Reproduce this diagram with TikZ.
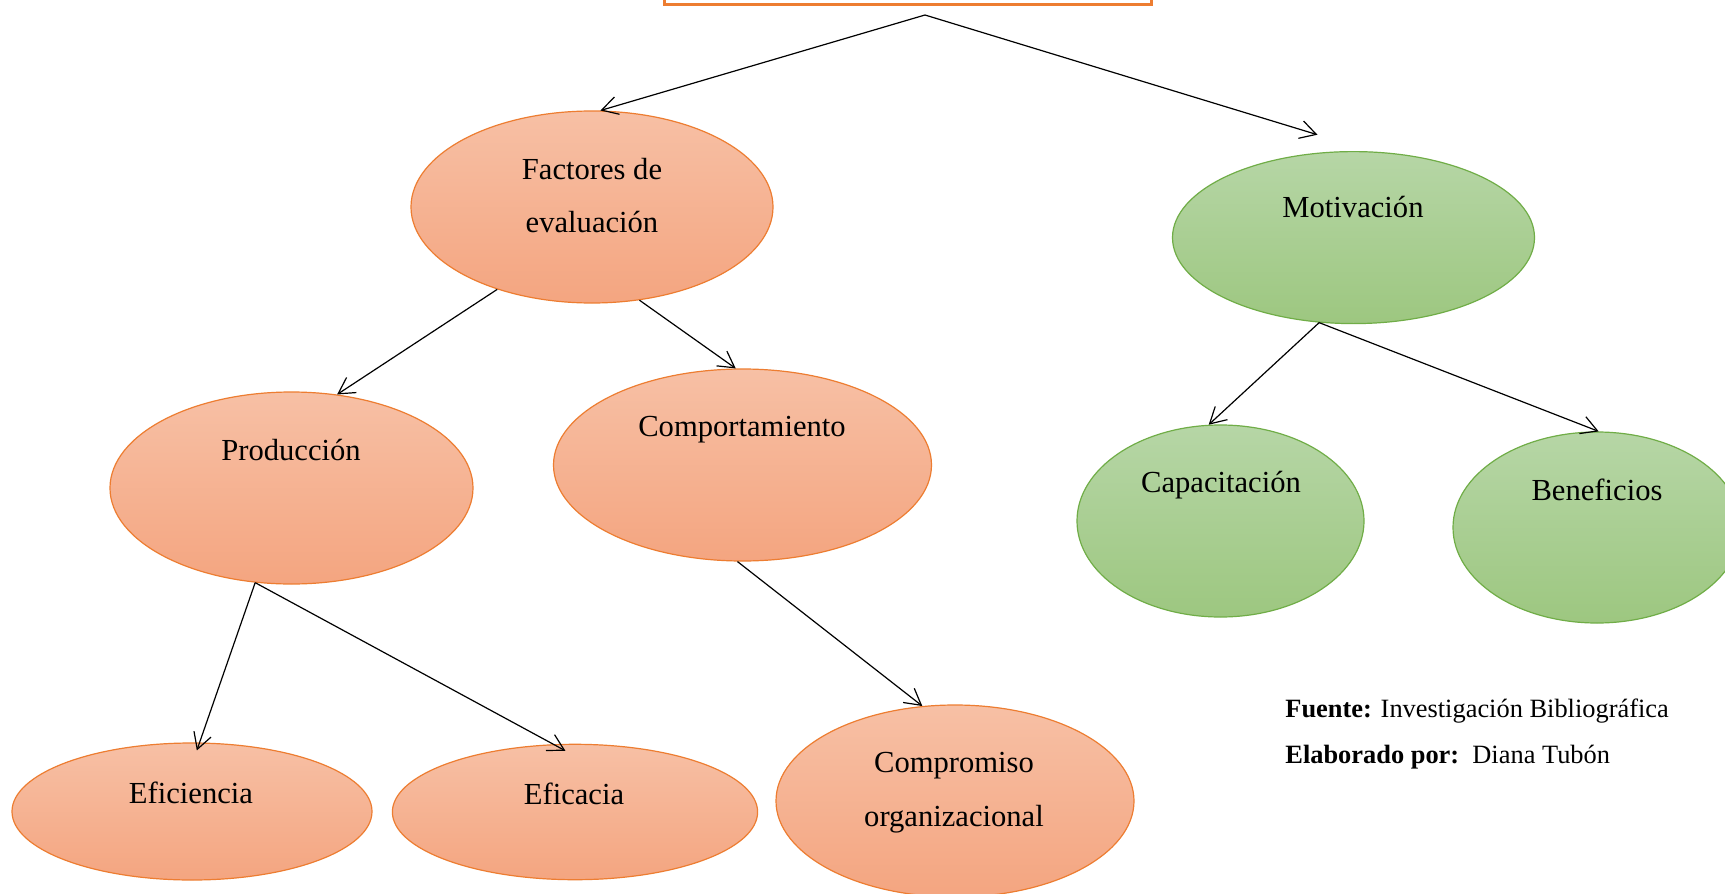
\documentclass[tikz,border=0pt]{standalone}
\usepackage{fontspec}
\setmainfont{Liberation Serif}
\usetikzlibrary{arrows.meta,shapes.geometric}
\definecolor{orline}{RGB}{237,125,49}
\definecolor{ortop}{RGB}{247,192,165}
\definecolor{orbot}{RGB}{244,165,128}
\definecolor{grline}{RGB}{112,173,71}
\definecolor{grtop}{RGB}{182,214,166}
\definecolor{grbot}{RGB}{157,199,128}
\begin{document}
\begin{tikzpicture}[x=0.5pt,y=-0.5pt,
  ov/.style={ellipse, draw=orline, line width=0.6pt, top color=ortop, bottom color=orbot, inner sep=0pt},
  gv/.style={ellipse, draw=grline, line width=0.6pt, top color=grtop, bottom color=grbot, inner sep=0pt},
  txt/.style={inner sep=0pt, anchor=base, font=\fontsize{15.3}{18}\selectfont},
  ft/.style={inner sep=0pt, anchor=base west, font=\fontsize{13.2}{16}\selectfont},
  arr/.style={-{Straight Barb[length=8pt,width=9pt]}, line width=0.6pt, black}]
\useasboundingbox (0,0) rectangle (1725,894);
\fill[white] (0,0) rectangle (1725,894);
% top box
\node[draw=orline, line width=1.5pt, minimum width=243.5pt, minimum height=100pt, anchor=south, inner sep=0pt] (box) at (907.5,6) {};
\coordinate (hub) at ([xshift=8.75pt,yshift=-4.5pt]box.south);
% ellipses
\node[ov, minimum width=181pt, minimum height=96pt] (fact) at (592,207) {};
\node[gv, minimum width=181pt, minimum height=86pt] (mot) at (1353.5,237.6) {};
\node[ov, minimum width=181.5pt, minimum height=96pt] (prod) at (291.5,488) {};
\node[ov, minimum width=189pt, minimum height=96pt] (comp) at (742.5,465) {};
\node[gv, minimum width=143.5pt, minimum height=96pt] (capa) at (1220.5,521) {};
\node[gv, minimum width=144pt, minimum height=95.5pt] (bene) at (1597,527.5) {};
\node[ov, minimum width=180pt, minimum height=68.5pt] (efi) at (192,811.5) {};
\node[ov, minimum width=182.6pt, minimum height=67.7pt] (efa) at (575,812) {};
\node[ov, minimum width=179pt, minimum height=96pt] (compr) at (955,801) {};
% texts
\node[txt] (tfact1) at (592,179.5) {Factores de};
\node[txt] (tfact2) at (592,232.5) {evaluación};
\node[txt] (tmot) at (1353,217.5) {Motivación};
\node[txt] (tprod) at (291,460.5) {Producción};
\node[txt] (tcomp) at (742,436.5) {Comportamiento};
\node[txt] (tcapa) at (1221,492.5) {Capacitación};
\node[txt] (tbene) at (1597,500) {Beneficios};
\node[txt] (tefi) at (191,803) {Eficiencia};
\node[txt] (tefa) at (574,804.5) {Eficacia};
\node[txt] (tcompr1) at (954,772.5) {Compromiso};
\node[txt] (tcompr2) at (954,826.5) {organizacional};
\node[ft] (fuente) at (1285,717) {\textbf{Fuente:} Investigación Bibliográfica};
\node[ft] (elab) at (1285,763) {\textbf{Elaborado por:}\ \ Diana Tubón};
% connectors
\draw[arr] (hub) -- (fact.85);
\draw[arr] (hub) -- ([yshift=9pt]mot.113);
\draw[arr] (fact.221) -- (prod.64);
\draw[arr] (fact.-63) -- (comp.94);
\draw[arr] (prod.-111) -- ([yshift=-4pt]efi.86);
\draw[arr] (prod.-111) -- ([yshift=-3.5pt]efa.98);
\draw[arr] (comp.-93) -- (compr.109);
\draw[arr] (mot.-112) -- (capa.97);
\draw[arr] (mot.-112) -- (bene.89);
\end{tikzpicture}
\end{document}
